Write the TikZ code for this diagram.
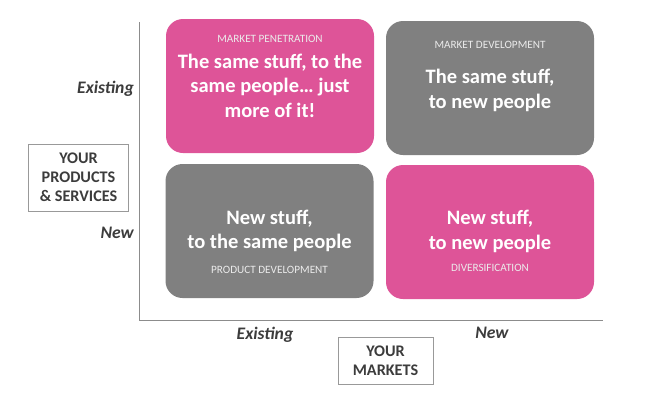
\documentclass[tikz,border=0pt]{standalone}
\usepackage{fontspec}
\setmainfont{Carlito}
\usepackage{tikz}
\usetikzlibrary{positioning}
\definecolor{quadpink}{RGB}{222,84,152}
\definecolor{quadgray}{RGB}{128,128,128}
\definecolor{labelgray}{RGB}{60,60,60}
\tikzset{
  quad/.style={rounded corners=17pt, minimum width=#1, inner sep=0pt},
  pinkquad/.style={quad=208pt, fill=quadpink, minimum height=134pt},
  grayquad/.style={quad=208pt, fill=quadgray, minimum height=134pt},
  bigtext/.style={text=white, align=center, inner sep=0pt, font=\fontsize{20.5}{24.5}\selectfont\bfseries},
  tagtext/.style={text=white!92!black, inner sep=0pt, font=\fontsize{11.2}{13}\selectfont},
  axislabel/.style={text=labelgray, inner sep=0pt, font=\fontsize{17.6}{20}\selectfont\bfseries\itshape},
  titlebox/.style={draw=black!40, line width=0.8pt, text=labelgray, align=center, inner sep=0pt, font=\fontsize{16.2}{19}\selectfont\bfseries},
  axis/.style={draw=black!45, line width=0.9pt}
}
\begin{document}
\begin{tikzpicture}[x=1pt, y=-1pt]
\useasboundingbox (0,0) rectangle (650,405);
% quadrants
\node[pinkquad] (pen) at (270,86) {};
\node[grayquad] (mdev) at (490,88) {};
\node[grayquad] (pdev) at (269.5,231) {};
\node[pinkquad] (div) at (490,232) {};
\node[tagtext] (penT) at (270,39) {MARKET PENETRATION};
\node[bigtext] (penB) at (270,85.5) {The same stuff, to the\\same people\ldots\ just\\more of it!};
\node[tagtext] (mdevT) at (490,45) {MARKET DEVELOPMENT};
\node[bigtext] (mdevB) at (490,90.5) {The same stuff,\\to new people};
\node[bigtext] (pdevB) at (269.5,231) {New stuff,\\to the same people};
\node[tagtext] (pdevT) at (269.5,270) {PRODUCT DEVELOPMENT};
\node[bigtext] (divB) at (490,231.5) {New stuff,\\to new people};
\node[tagtext] (divT) at (490,268) {DIVERSIFICATION};
% axes
\coordinate (o) at (139,320);
\coordinate (ytop) at (139,22);
\coordinate (xend) at (603,320);
\draw[axis] (ytop) -- (o) -- (xend);
\node[axislabel, anchor=east] (yex) at (134,89) {Existing};
\node[axislabel, anchor=east] (ynew) at (134,233) {New};
\node[axislabel] (xex) at (265,335) {Existing};
\node[axislabel] (xnew) at (492,333) {New};
\node[titlebox, minimum width=100pt, minimum height=67pt] (prod) at (78.5,177.5) {YOUR\\PRODUCTS\\\& SERVICES};
\node[titlebox, minimum width=95pt, minimum height=47pt] (mkt) at (385.5,360.5) {YOUR\\MARKETS};
\end{tikzpicture}
\end{document}
